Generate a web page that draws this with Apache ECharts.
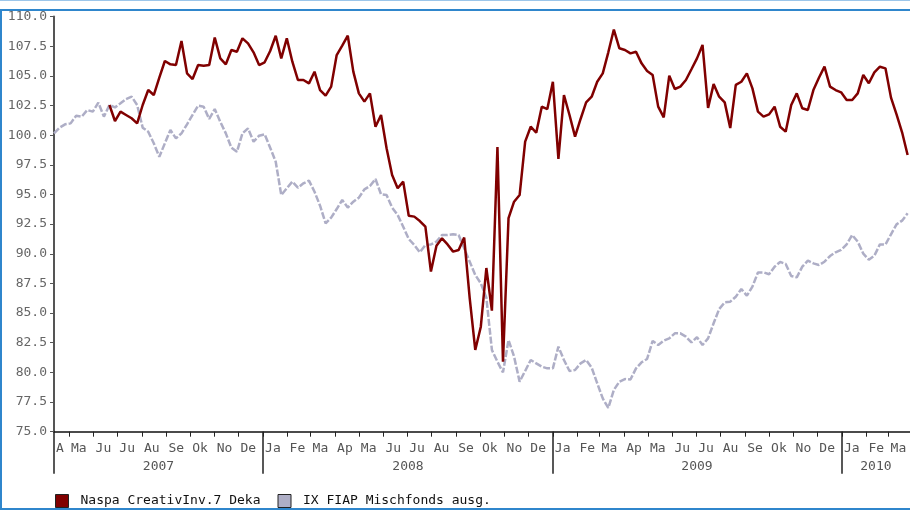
<!DOCTYPE html>
<html><head><meta charset="utf-8">
<script src="https://cdn.jsdelivr.net/npm/echarts@6/dist/echarts.min.js"></script>
<style>html,body{margin:0;padding:0;background:#fff;overflow:hidden}#c{width:910px;height:511px}</style>
</head><body><div id="c"></div>
<script>
// ---- data ----
const startDate = [2007, 3, 12];   // 12 Apr 2007 (UTC, month 0-based)
const endDate = [2010, 2, 28];     // 28 Mar 2010
const monthLabels = ['Ja','Fe','Ma','Ap','Ma','Ju','Ju','Au','Se','Ok','No','De'];
const firstMonthLabel = 'A';
const seriesNames = ['Naspa CreativInv.7 Deka', 'IX FIAP Mischfonds ausg.'];
const sampleStepDays = 7;   // one value per week
const redStartWeek = 10;
const yMin = 75, yMax = 110, yStep = 2.5;

const redValues = [
  102.54, 101.19, 101.98, 101.70, 101.42, 100.99, 102.54, 103.80, 103.38, 104.84, 106.25, 105.97, 105.91, 107.93, 105.21, 104.73, 105.91,
  105.85, 105.91, 108.22, 106.47, 105.97, 107.18, 107.03, 108.16, 107.74, 106.98, 105.91, 106.14, 107.09, 108.38, 106.47, 108.16, 106.19, 104.65, 104.65, 104.36, 105.35, 103.80, 103.33, 104.09, 106.75, 107.54,
  108.38, 105.35, 103.52, 102.82, 103.52, 100.71, 101.70, 98.89, 96.64, 95.52, 96.08, 93.21, 93.13, 92.76, 92.28, 88.5, 90.68, 91.30, 90.79, 90.18, 90.32, 91.36, 86.24, 81.89, 83.85, 88.8,
  85.2, 99.0, 80.9, 93.0, 94.39, 94.95, 99.45, 100.71, 100.2, 102.4, 102.2, 104.5, 98.0, 103.38, 101.70, 99.87, 101.36, 102.76, 103.24, 104.5, 105.21, 106.98, 108.9, 107.32, 107.18, 106.89,
  107.03, 106.05, 105.41, 105.07, 102.4, 101.5, 105.01, 103.89, 104.09, 104.65, 105.55, 106.47, 107.6, 102.3, 104.3, 103.24, 102.76, 100.6, 104.23, 104.5, 105.21, 103.94, 101.98, 101.56, 101.75,
  102.4, 100.71, 100.29, 102.54, 103.52, 102.26, 102.12, 103.80, 104.84, 105.77, 104.09, 103.80, 103.61, 102.96, 102.96, 103.52, 105.07, 104.37, 105.29, 105.77, 105.63, 103.16, 101.75, 100.24, 98.33
];
const grayValues = [
  100.15, 100.63, 100.91, 100.99, 101.64, 101.56, 102.12, 101.98, 102.74, 101.56, 102.54, 102.34, 102.68, 103.04, 103.24, 102.54, 100.63, 100.29, 99.31, 98.18, 99.31, 100.43, 99.73, 100.15, 100.91, 101.70, 102.48,
  102.40, 101.36, 102.20, 101.12, 100.15, 98.94, 98.60, 100.15, 100.57, 99.45, 99.95, 100.07, 98.94, 97.76, 94.95, 95.52, 96.08, 95.57, 95.94, 96.16, 95.23, 94.05, 92.57, 93.04, 93.77, 94.53,
  93.89, 94.39, 94.73, 95.43, 95.71, 96.30, 95.01, 94.95, 93.89, 93.27, 92.28, 91.24, 90.74, 90.12, 90.74, 90.79, 91.02, 91.58, 91.58, 91.64, 91.58, 90.46, 89.33, 88.21, 87.51, 86.3,
  81.89, 80.90, 80.0, 82.73, 81.33, 79.22, 80.12, 81.04, 80.76, 80.48, 80.34, 80.34, 82.17, 81.04, 80.12, 80.20, 80.76, 81.04, 80.40, 79.08, 77.81, 77.0, 78.52, 79.22, 79.44, 79.4,
  80.34, 80.85, 81.13, 82.65, 82.31, 82.68, 82.87, 83.29, 83.29, 83.01, 82.53, 82.96, 82.31, 82.87, 84.14, 85.34, 85.91, 85.96, 86.38, 87.03, 86.47, 87.23, 88.43, 88.43, 88.27,
  88.91, 89.31, 89.14, 88.13, 88.01, 88.91, 89.42, 89.19, 89.05, 89.33, 89.81, 90.12, 90.32, 90.79, 91.58, 91.02, 90.01, 89.50, 89.84, 90.79, 90.77, 91.64, 92.48, 92.79, 93.41
];

// ---- daily categories ----
const cats = [];
for (let t = Date.UTC(...startDate); t <= Date.UTC(...endDate); t += 86400000) {
  cats.push(new Date(t).toISOString().slice(0, 10));
}
const isMonthStart = v => v.slice(8) === '01';
const isYearStart = v => v.slice(5) === '01-01';
const bounds = [0];
cats.forEach((v, i) => { if (i > 0 && isYearStart(v)) bounds.push(i); });
bounds.push(cats.length - 1);
const yearMids = [];
for (let i = 0; i < bounds.length - 1; i++) yearMids.push(Math.floor((bounds[i] + bounds[i + 1]) / 2));

const redData = redValues.map((v, i) => [(i + redStartWeek) * sampleStepDays, v]);
const grayData = grayValues.map((v, i) => [i * sampleStepDays, v]);

const FONT = 'DejaVu Sans Mono';
const RED = '#800000', GRAY = '#aeaec6';

const chart = echarts.init(document.getElementById('c'), null, { renderer: 'canvas' });
chart.setOption({
  animation: false,
  backgroundColor: '#fff',
  grid: { left: 54, right: 0, top: 16.5, bottom: 79.3, containLabel: false },
  legend: {
    left: 55, top: 494, padding: 0, icon: 'rect', itemWidth: 13, itemHeight: 13, itemGap: 17,
    textStyle: { fontFamily: FONT, fontSize: 13, color: '#111', padding: [0, 0, 0, 7] },
    data: [
      { name: seriesNames[0], itemStyle: { color: RED, borderColor: '#222', borderWidth: 1 } },
      { name: seriesNames[1], itemStyle: { color: GRAY, borderColor: '#222', borderWidth: 1 }, lineStyle: { type: 'solid' } }
    ]
  },
  xAxis: [
    {
      type: 'category', data: cats, boundaryGap: false, position: 'bottom',
      axisLine: { show: true, lineStyle: { color: '#111', width: 1.5 } },
      axisTick: { show: true, interval: (i, v) => isMonthStart(v), length: 5, lineStyle: { color: '#222', width: 1 } },
      axisLabel: {
        interval: (i, v) => i === 0 || isMonthStart(v),
        formatter: (v, i) => i === 0 ? firstMonthLabel : monthLabels[+v.slice(5, 7) - 1],
        align: 'left', verticalAlign: 'middle', margin: 17, padding: [0, 0, 0, 2],
        fontFamily: FONT, fontSize: 13, color: '#555'
      },
      splitLine: { show: false }
    },
    {
      type: 'category', data: cats, boundaryGap: false, position: 'bottom', offset: 0,
      axisLine: { show: false },
      axisTick: { show: true, interval: (i, v) => i === 0 || isYearStart(v), length: 42, lineStyle: { color: '#222', width: 1.5 } },
      axisLabel: {
        interval: (i) => yearMids.includes(i),
        formatter: v => v.slice(0, 4),
        align: 'center', verticalAlign: 'middle', margin: 35,
        fontFamily: FONT, fontSize: 13, color: '#555'
      },
      splitLine: { show: false }
    }
  ],
  yAxis: {
    type: 'value', min: yMin, max: yMax, interval: yStep,
    axisLine: { show: true, lineStyle: { color: '#555', width: 2 } },
    axisTick: { show: true, length: 4, lineStyle: { color: '#555' } },
    axisLabel: { formatter: v => v.toFixed(1), margin: 7, fontFamily: FONT, fontSize: 13, color: '#666' },
    splitLine: { show: false }
  },
  series: [
    {
      name: seriesNames[0], type: 'line', xAxisIndex: 0, data: redData, showSymbol: false, symbol: 'none',
      lineStyle: { color: RED, width: 2.5 }, itemStyle: { color: RED }, z: 3
    },
    {
      name: seriesNames[1], type: 'line', xAxisIndex: 0, data: grayData, showSymbol: false, symbol: 'none',
      lineStyle: { color: GRAY, width: 2.5, type: [7, 2] }, itemStyle: { color: GRAY }, z: 2
    }
  ],
  graphic: [
    { type: 'line', shape: { x1: 0, y1: 0.5, x2: 910, y2: 0.5 }, style: { stroke: '#9cc6ea', lineWidth: 1 }, silent: true },
    { type: 'rect', shape: { x: 1, y: 10, width: 940, height: 499 }, style: { fill: null, stroke: '#2f86cc', lineWidth: 2 }, silent: true }
  ]
});
</script>
</body></html>
